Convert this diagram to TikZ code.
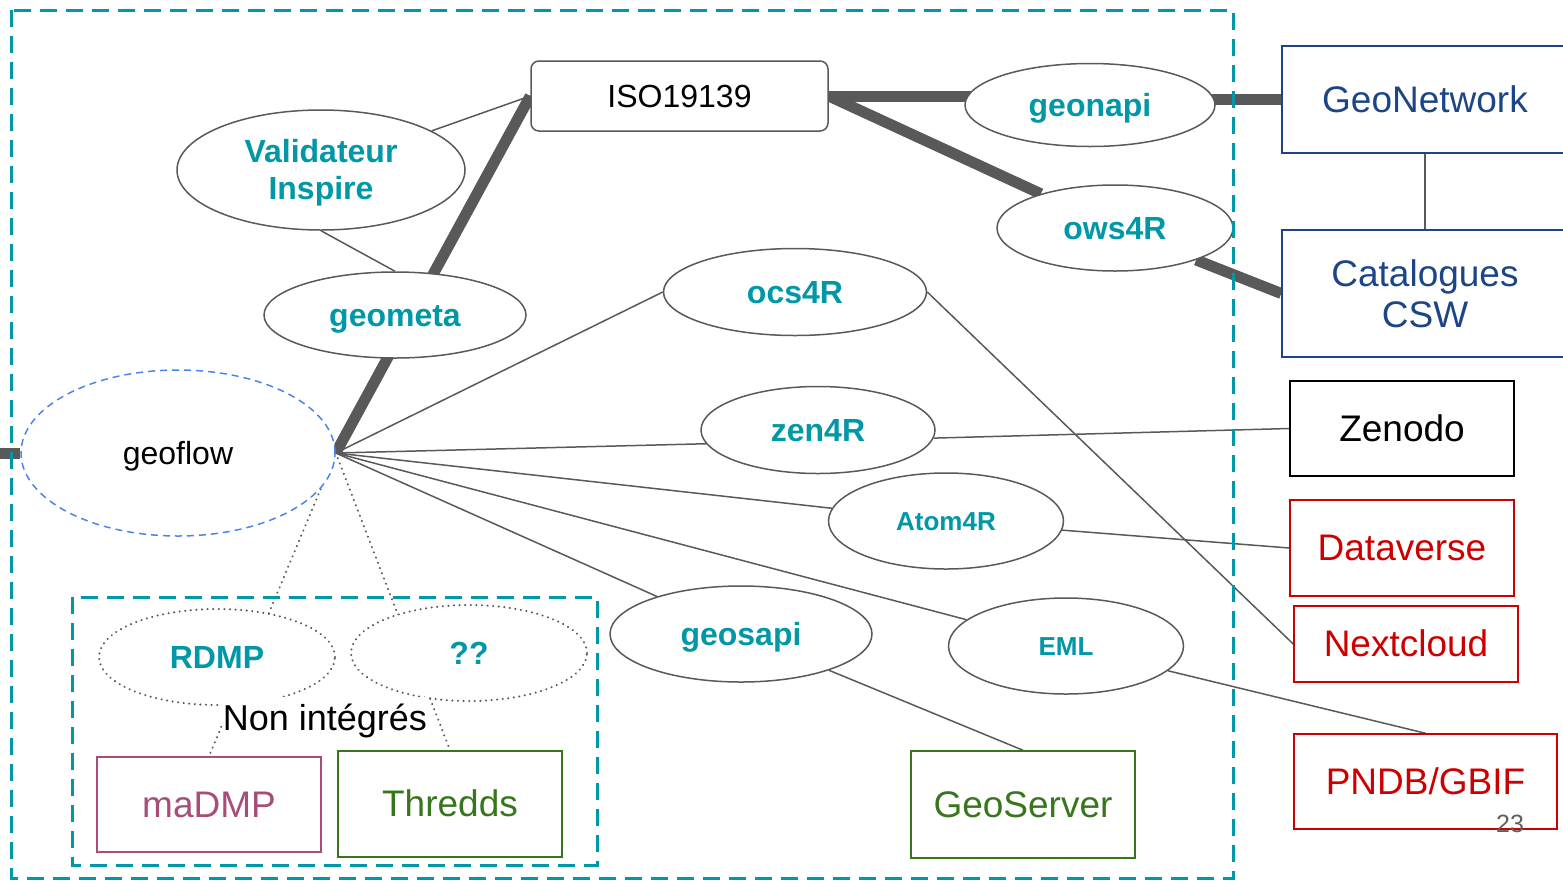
\documentclass[tikz,border=0pt]{standalone}
\usepackage{fontspec}
\setmainfont{Liberation Sans}
\usetikzlibrary{shapes.geometric}
\definecolor{tealc}{HTML}{0097A7}
\definecolor{lgray}{HTML}{595959}
\definecolor{dblue}{HTML}{1C4587}
\definecolor{redc}{HTML}{CC0000}
\definecolor{magc}{HTML}{A64D79}
\definecolor{greenc}{HTML}{38761D}
\definecolor{bluec}{HTML}{4A86E8}
\definecolor{numgray}{HTML}{5F5F5F}
\newcommand{\fBoldL}{\fontsize{32}{37}\selectfont\bfseries}
\newcommand{\fBoldS}{\fontsize{26}{30}\selectfont\bfseries}
\newcommand{\fRegM}{\fontsize{32}{37}\selectfont}
\newcommand{\fRegL}{\fontsize{37}{41}\selectfont}
\pgfdeclarelayer{bg}
\pgfsetlayers{bg,main}
\begin{document}
\begin{tikzpicture}[x=1pt,y=-1pt,
  tM/.style={text height=29pt, text depth=6.8pt},
  tS/.style={text height=23.5pt, text depth=5.5pt},
  tL/.style={text height=33.5pt, text depth=7.8pt},
  ell/.style={ellipse, draw=lgray, line width=1.5pt, fill=white, inner sep=0pt, text=tealc, font=\fBoldL, tM},
  dotell/.style={ellipse, draw=lgray, line width=2.2pt, line cap=round, dash pattern=on 0.1pt off 5.5pt, fill=white, inner sep=0pt, text=tealc, font=\fBoldL, tM},
  ext/.style={rectangle, line width=1.5pt, fill=white, inner sep=0pt, font=\fRegL, tL},
  thickln/.style={draw=lgray, line width=11pt},
  thinln/.style={draw=lgray, line width=1.5pt},
  dotln/.style={draw=lgray, line width=2.2pt, line cap=round, dash pattern=on 0.1pt off 5.5pt},
  tealbox/.style={draw=tealc, line width=3pt, dash pattern=on 17pt off 9pt}
]
\useasboundingbox (0,0) rectangle (1563,884);

% ellipses
\node[ell, align=center, text height=66pt, text depth=6.8pt, minimum width=288, minimum height=120] (val) at (321,170) {Validateur\\Inspire};
\node[ell, minimum width=262, minimum height=86] (geometa) at (395,315) {geometa};
\node[ell, minimum width=250, minimum height=83] (geonapi) at (1090,105) {geonapi};
\node[ell, minimum width=236, minimum height=86] (ows) at (1115,228) {ows4R};
\node[ell, minimum width=263, minimum height=87] (ocs) at (795,292) {ocs4R};
\node[ell, minimum width=234, minimum height=87] (zen) at (818,430) {zen4R};
\node[ell, minimum width=235, minimum height=96, font=\fBoldS, tS] (atom) at (946,521) {Atom4R};
\node[ell, minimum width=262, minimum height=96] (geosapi) at (741,634) {geosapi};
\node[ell, minimum width=235, minimum height=96, font=\fBoldS, tS] (eml) at (1066,646) {EML};
\node[ellipse, draw=bluec, line width=1.5pt, dash pattern=on 7pt off 5pt, fill=white, inner sep=0pt, font=\fRegM, tM, minimum width=314, minimum height=166] (geoflow) at (178,453) {geoflow};
\node[dotell, minimum width=236, minimum height=96] (rdmp) at (217,657) {RDMP};
\node[dotell, minimum width=236, minimum height=96] (qq) at (469,653) {??};

% ISO box
\node[rectangle, rounded corners=8pt, draw=lgray, line width=1.5pt, fill=white, inner sep=0pt, font=\fRegM, tM, minimum width=297, minimum height=70] (iso) at (679.5,96) {ISO19139};

% external boxes
\node[ext, draw=dblue, text=dblue, minimum width=286, minimum height=107] (gn) at (1425,99.5) {GeoNetwork};
\node[ext, draw=dblue, text=dblue, align=center, text height=76pt, text depth=7.8pt, minimum width=286, minimum height=127] (cat) at (1425,293.5) {Catalogues\\CSW};
\node[ext, draw=black, text=black, minimum width=224, minimum height=95] (zenodo) at (1402,428.5) {Zenodo};
\node[ext, draw=redc, text=redc, minimum width=224, minimum height=96] (dv) at (1402,548) {Dataverse};
\node[ext, draw=redc, text=redc, minimum width=224, minimum height=76] (nc) at (1406,644) {Nextcloud};
\node[ext, draw=redc, text=redc, minimum width=263, minimum height=95] (pndb) at (1425.5,781.5) {PNDB/GBIF};
\node[ext, draw=magc, text=magc, minimum width=224, minimum height=95] (madmp) at (209,804.5) {maDMP};
\node[ext, draw=greenc, text=greenc, minimum width=224, minimum height=106] (thredds) at (450,804) {Thredds};
\node[ext, draw=greenc, text=greenc, minimum width=224, minimum height=107] (gs) at (1023,804.5) {GeoServer};

\node[fill=white, inner sep=1pt, font=\fontsize{36}{40}\selectfont, text height=32.6pt, text depth=7.6pt] (nonint) at (325,718) {Non intégrés};
\node[text=numgray, inner sep=0pt, font=\fontsize{25}{28}\selectfont] (num) at (1510,824) {23};

\coordinate (hub) at (geoflow.east);
\coordinate (lstub) at (0,453);

\begin{pgfonlayer}{bg}
  % thick connectors
  \draw[thickln] (lstub) -- (geoflow.west);
  \draw[thickln] (hub) -- (iso.west);
  \draw[thickln] (iso.east) -- (iso.east -| geonapi.center);
  \draw[thickln] (gn.west -| geonapi.center) -- (gn.west);
  \draw[thickln] (iso.east) -- (ows);
  \draw[thickln] (ows) -- (cat.west);
  % thin connectors
  \draw[thinln] (val) -- (iso.west);
  \draw[thinln] (val.south) -- (geometa.north);
  \draw[thinln] (hub) -- (ocs.west);
  \draw[thinln] (hub) -- (zen.187);
  \draw[thinln] (hub) -- (atom);
  \draw[thinln] (hub) -- (eml);
  \draw[thinln] (hub) -- (geosapi);
  \draw[thinln] (zen.356) -- (zenodo.west);
  \draw[thinln] (atom) -- (dv.west);
  \draw[thinln] (ocs.east) -- (nc.west);
  \draw[thinln] (eml) -- (pndb.north);
  \draw[thinln] (geosapi) -- (gs.north);
  \draw[thinln] (gn.south) -- (cat.north);
  % dotted connectors
  \draw[dotln] (hub) -- (madmp.north);
  \draw[dotln] (hub) -- (thredds.north);
\end{pgfonlayer}

% dashed frames
\draw[tealbox] (11,10) rectangle (1233,878);
\draw[tealbox] (72,597) rectangle (597,865);
\end{tikzpicture}
\end{document}
